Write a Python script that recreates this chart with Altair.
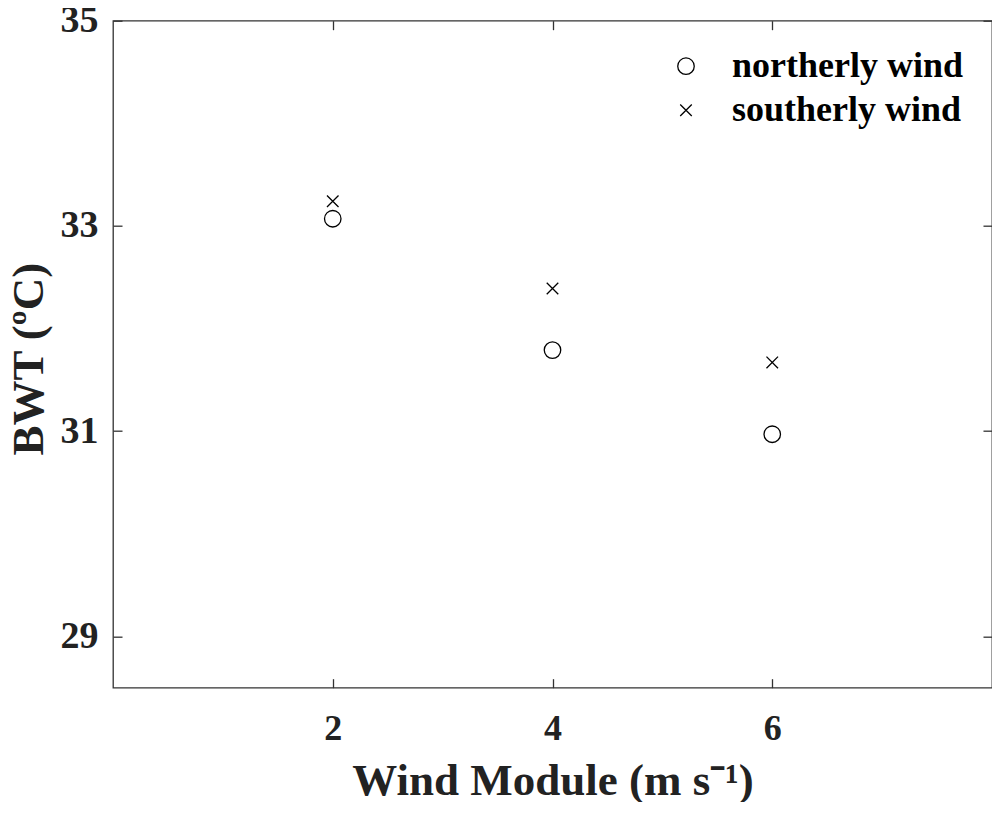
import altair as alt
import pandas as pd

wind = [2, 4, 6]
northerly = [33.07, 31.79, 30.97]
southerly = [33.24, 32.39, 31.67]
series_names = ["northerly wind", "southerly wind"]
x_ticks = [2, 4, 6]
y_ticks = [29, 31, 33, 35]

rows = []
for w, n, s in zip(wind, northerly, southerly):
    rows.append({"wind": w, "bwt": n, "series": series_names[0]})
    rows.append({"wind": w, "bwt": s, "series": series_names[1]})
df = pd.DataFrame(rows)

FONT = "Liberation Serif"
CROSS = "M-0.7,-0.7L0.7,0.7M-0.7,0.7L0.7,-0.7"
AX = "#333333"
xscale = alt.Scale(domain=[0, 8], nice=False, zero=False)
yscale = alt.Scale(domain=[28.5, 35], nice=False, zero=False)

common = dict(offset=-9, tickSize=9, domain=False, grid=False, tickColor=AX, tickWidth=1.3)

points = alt.Chart(df).mark_point(filled=False, color="black", size=272, strokeWidth=1.3, opacity=1).encode(
    x=alt.X("wind:Q", scale=xscale, axis=alt.Axis(
        orient="bottom", values=x_ticks, labelPadding=24, labelFont=FONT, labelFontWeight="bold",
        labelFontSize=36, labelColor="#222", title="Wind Module (m s⁻¹)", titleFont=FONT,
        titleFontWeight="bold", titleFontSize=45, titleColor="#222", titleBaseline="alphabetic",
        titleY=115.5, **common)),
    y=alt.Y("bwt:Q", scale=yscale, axis=alt.Axis(
        orient="left", values=y_ticks, labelPadding=15, labelFont=FONT, labelFontWeight="bold",
        labelFontSize=38, labelColor="#222", title="BWT (ºC)", titleFont=FONT,
        titleFontWeight="bold", titleFontSize=45, titleColor="#222", titleBaseline="alphabetic",
        titleAngle=270, titleX=-80, titleY=338, **common)),
    shape=alt.Shape("series:N", scale=alt.Scale(domain=series_names, range=["circle", CROSS]),
                    legend=alt.Legend(title=None, orient="none", legendX=555, legendY=27.5,
                                      labelFont=FONT, labelFontWeight="bold", labelFontSize=36,
                                      labelColor="black", labelOffset=28, labelLimit=0, symbolSize=272,
                                      symbolStrokeColor="black", symbolStrokeWidth=1.3,
                                      symbolFillColor="transparent", rowPadding=8, padding=0)),
)

mirror = alt.Chart(df).mark_point(opacity=0).encode(
    x=alt.X("wind:Q", scale=xscale, axis=alt.Axis(orient="top", values=x_ticks, labels=False, title=None, **common)),
    y=alt.Y("bwt:Q", scale=yscale, axis=alt.Axis(orient="right", values=y_ticks, labels=False, title=None, **common)),
)

chart = alt.layer(points, mirror).resolve_axis(x="independent", y="independent").properties(
    width=879, height=667,
    autosize=alt.AutoSizeParams(type="none"),
    padding={"left": 105, "top": 12.7, "right": 0, "bottom": 114},
).configure_view(stroke=AX, strokeWidth=1.3)

chart.save("out.html", embed_options={"renderer": "svg", "actions": False})
